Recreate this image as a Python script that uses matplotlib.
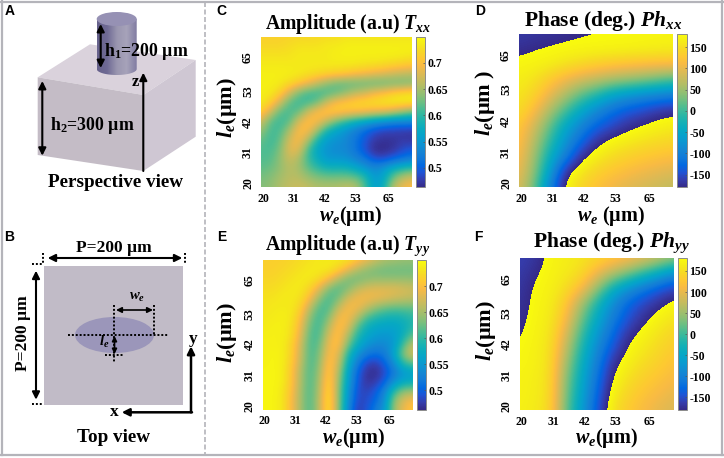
#!/usr/bin/env python3
"""Meta-atom schematic with amplitude and phase maps against w_e and l_e."""

import numpy as np

import matplotlib
matplotlib.use("Agg")
import matplotlib.pyplot as plt
from matplotlib import colors as mcolors
from matplotlib.patches import Ellipse, Polygon, Rectangle

W, H = 724, 458

plt.rcParams["font.family"] = ["Liberation Serif", "DejaVu Serif"]
plt.rcParams["mathtext.fontset"] = "custom"
plt.rcParams["mathtext.rm"] = "Liberation Serif:bold"
plt.rcParams["mathtext.it"] = "Liberation Serif:italic:bold"
plt.rcParams["mathtext.bf"] = "Liberation Serif:bold"
plt.rcParams["mathtext.bfit"] = "Liberation Serif:italic:bold"

size_ticks = [20, 31, 42, 53, 65]
amp_ticks = [0.5, 0.55, 0.6, 0.65, 0.7]
amp_tick_labels = ["0.5", "0.55", "0.6", "0.65", "0.7"]
phase_ticks = [-150, -100, -50, 0, 50, 100, 150]

# amplitude grids, first row is the largest l_e
t_xx = [
    [.715, .715, .715, .718, .720, .720, .722, .725, .725, .730, .730, .730, .730, .730, .730, .730, .730],
    [.720, .720, .720, .725, .730, .730, .730, .735, .735, .740, .740, .740, .740, .740, .740, .740, .740],
    [.730, .730, .730, .730, .735, .735, .735, .735, .740, .740, .740, .740, .740, .740, .740, .738, .735],
    [.735, .735, .735, .735, .735, .735, .735, .735, .735, .735, .735, .730, .730, .725, .720, .715, .710],
    [.740, .740, .740, .738, .735, .730, .725, .720, .715, .710, .700, .695, .685, .680, .670, .665, .660],
    [.740, .740, .735, .725, .710, .690, .665, .640, .625, .620, .620, .620, .620, .620, .625, .625, .630],
    [.740, .735, .720, .675, .630, .610, .605, .610, .620, .640, .660, .670, .690, .700, .715, .725, .730],
    [.735, .720, .675, .620, .605, .605, .625, .670, .700, .710, .720, .725, .730, .735, .740, .740, .740],
    [.720, .675, .620, .610, .620, .670, .700, .715, .715, .710, .705, .700, .690, .685, .670, .650, .630],
    [.675, .620, .605, .615, .675, .705, .700, .665, .630, .605, .585, .570, .555, .545, .535, .535, .535],
    [.645, .610, .610, .650, .700, .700, .645, .590, .565, .545, .525, .505, .490, .480, .480, .475, .475],
    [.625, .605, .620, .675, .700, .655, .590, .555, .545, .535, .515, .495, .475, .470, .470, .475, .470],
    [.615, .610, .630, .685, .685, .610, .565, .545, .535, .535, .515, .490, .465, .463, .470, .485, .495],
    [.615, .615, .640, .670, .655, .605, .575, .550, .550, .545, .530, .515, .490, .485, .500, .510, .520],
    [.620, .625, .640, .660, .650, .620, .600, .585, .585, .585, .570, .550, .535, .550, .575, .590, .600],
    [.630, .635, .650, .660, .660, .645, .635, .630, .630, .630, .625, .600, .550, .565, .625, .660, .675],
    [.635, .640, .655, .665, .670, .665, .655, .655, .655, .665, .660, .615, .555, .580, .660, .690, .700],
]
t_yy = [
    [.715, .715, .715, .720, .725, .730, .735, .735, .735, .730, .710, .690, .670, .655, .650, .645, .645],
    [.715, .715, .720, .725, .730, .735, .735, .735, .720, .690, .660, .640, .630, .625, .625, .625, .625],
    [.720, .720, .725, .730, .735, .735, .725, .700, .660, .630, .625, .635, .640, .640, .640, .640, .640],
    [.725, .725, .730, .735, .735, .720, .685, .635, .615, .630, .660, .675, .680, .680, .680, .675, .670],
    [.730, .730, .735, .735, .730, .700, .645, .610, .625, .670, .690, .695, .690, .685, .675, .670, .665],
    [.730, .735, .735, .735, .720, .665, .615, .610, .660, .695, .695, .670, .645, .630, .625, .625, .625],
    [.735, .735, .740, .735, .705, .640, .605, .630, .690, .700, .665, .620, .600, .590, .585, .590, .600],
    [.735, .740, .740, .730, .695, .625, .605, .655, .705, .690, .625, .585, .570, .565, .565, .575, .595],
    [.740, .740, .740, .730, .685, .615, .610, .675, .710, .660, .600, .570, .555, .550, .555, .580, .620],
    [.740, .740, .740, .720, .675, .610, .620, .690, .710, .635, .580, .550, .535, .535, .550, .610, .665],
    [.740, .745, .740, .720, .670, .610, .630, .700, .690, .600, .550, .520, .510, .520, .565, .640, .680],
    [.740, .745, .740, .715, .665, .610, .635, .715, .675, .585, .525, .485, .475, .500, .540, .600, .620],
    [.745, .745, .740, .710, .655, .610, .645, .720, .660, .570, .505, .470, .465, .485, .520, .550, .560],
    [.745, .745, .740, .710, .655, .610, .650, .730, .650, .565, .500, .470, .475, .500, .545, .570, .575],
    [.745, .745, .735, .705, .650, .610, .655, .735, .645, .555, .490, .480, .495, .530, .600, .640, .645],
    [.745, .745, .735, .700, .650, .610, .660, .740, .645, .550, .485, .485, .505, .540, .640, .680, .700],
    [.745, .745, .735, .700, .650, .610, .660, .740, .645, .540, .475, .490, .520, .550, .645, .690, .710],
]

# unwrapped phase in degrees, colours fold back into -180..180
ph_xx = [
    [195, 192, 189, 186, 183, 181, 180, 178, 176, 174, 172],
    [186, 181, 178, 175, 173, 172, 171, 170, 168, 166, 165],
    [174, 170, 165, 155, 145, 135, 128, 122, 118, 115, 113],
    [165, 155, 130, 105, 85, 70, 55, 45, 35, 20, 5],
    [158, 140, 100, 60, 15, -15, -55, -75, -90, -100, -108],
    [150, 115, 60, 5, -45, -90, -120, -140, -150, -165, -172],
    [130, 85, 20, -45, -95, -130, -150, -170, -181, -190, -197],
    [125, 65, -5, -75, -125, -170, -188, -197, -205, -212, -217],
    [115, 50, -35, -100, -172, -195, -210, -222, -230, -237, -242],
    [105, 40, -60, -175, -200, -220, -235, -245, -255, -262, -270],
    [90, 25, -100, -190, -218, -240, -255, -268, -275, -283, -290],
]
ph_yy = [
    [200, 192, 172, 165, 158, 145, 132, 118, 100, 75, 50],
    [196, 183, 170, 162, 148, 105, 65, 30, -10, -45, -85],
    [193, 176, 168, 150, 115, 45, -35, -80, -112, -140, -158],
    [190, 174, 165, 130, 55, -20, -85, -130, -155, -172, -190],
    [187, 172, 162, 115, 25, -45, -105, -145, -172, -192, -205],
    [183, 170, 158, 90, 0, -70, -125, -170, -190, -205, -220],
    [178, 168, 155, 70, -20, -90, -145, -185, -200, -215, -230],
    [175, 168, 152, 50, -35, -105, -172, -195, -212, -225, -240],
    [170, 165, 150, 35, -45, -120, -183, -208, -225, -238, -250],
    [170, 165, 148, 28, -55, -130, -195, -220, -238, -250, -262],
    [168, 162, 145, 20, -65, -140, -205, -230, -248, -262, -272],
]

parula = mcolors.LinearSegmentedColormap.from_list("parula", [
    (0.2081, 0.1663, 0.5292), (0.2081, 0.2386, 0.6771), (0.1253, 0.3242, 0.8303),
    (0.0060, 0.4086, 0.8828), (0.0629, 0.4737, 0.8554), (0.0793, 0.5200, 0.8312),
    (0.0488, 0.5772, 0.8228), (0.0239, 0.6287, 0.8038), (0.0267, 0.6642, 0.7607),
    (0.0843, 0.6928, 0.7062), (0.1801, 0.7177, 0.6424), (0.3022, 0.7376, 0.5712),
    (0.4420, 0.7481, 0.5033), (0.5709, 0.7485, 0.4494), (0.6834, 0.7435, 0.4044),
    (0.7858, 0.7356, 0.3633), (0.8824, 0.7274, 0.3217), (0.9739, 0.7314, 0.2666),
    (0.9955, 0.7861, 0.1967), (0.9697, 0.8481, 0.1475), (0.9598, 0.9218, 0.0948),
    (0.9763, 0.9831, 0.0538),
])

FRAME = "#b4b4ba"
CUBE_TOP = "#dad2dc"
CUBE_FRONT = "#c4bcc6"
CUBE_SIDE = "#cfc7d3"
SQUARE = "#c1bbc7"
ELLIPSE = "#9b96ba"

X_RANGE = (19.3, 73.2)
Y_RANGE = (18.6, 72.3)


def fold_phase(x):
    return (np.asarray(x) + 180.0) % 360.0 - 180.0


def px_axes(fig, left, top, right, bottom):
    return fig.add_axes([left / W, 1 - bottom / H, (right - left) / W, (bottom - top) / H])


def heat_panel(fig, box, cbar_box, data, wrapped, ticks, labels):
    ax = px_axes(fig, *box)
    if wrapped:
        img_norm = mcolors.FuncNorm((fold_phase, lambda x: x), vmin=-180, vmax=179.99)
        bar_norm = mcolors.Normalize(-180, 180)
    else:
        img_norm = mcolors.Normalize(0.463, 0.75)
        bar_norm = img_norm

    # samples sit on the panel edges, so pad the image by half a cell and crop
    n = len(data)
    dx = (X_RANGE[1] - X_RANGE[0]) / (n - 1)
    dy = (Y_RANGE[1] - Y_RANGE[0]) / (n - 1)
    extent = (X_RANGE[0] - dx / 2, X_RANGE[1] + dx / 2, Y_RANGE[0] - dy / 2, Y_RANGE[1] + dy / 2)
    ax.imshow(data, cmap=parula, norm=img_norm, aspect="auto", extent=extent,
              interpolation="bicubic", interpolation_stage="data")
    ax.set_xlim(*X_RANGE)
    ax.set_ylim(*Y_RANGE)

    for s in ax.spines.values():
        s.set_visible(False)
    ax.set_xticks(size_ticks)
    ax.set_yticks(size_ticks)
    ax.tick_params(axis="x", length=0, pad=4)
    ax.tick_params(axis="y", length=0, pad=5)
    ax.set_xticklabels(size_ticks, fontsize=8.5, fontweight="bold")
    ax.set_yticklabels(size_ticks, fontsize=8.5, fontweight="bold", rotation=90, va="center")

    cax = px_axes(fig, *cbar_box)
    cb = fig.colorbar(plt.cm.ScalarMappable(norm=bar_norm, cmap=parula), cax=cax)
    cb.set_ticks(ticks)
    cb.set_ticklabels(labels, fontsize=8.5, fontweight="bold")
    cb.ax.tick_params(direction="in", length=1.5, width=0.5, pad=2, color="#555555")
    cb.outline.set_edgecolor("#8a8a8a")
    cb.outline.set_linewidth(0.7)


def double_arrow(ax, p0, p1, style="<|-|>", lw=1.5, scale=11):
    ax.annotate("", xy=p1, xytext=p0,
                arrowprops=dict(arrowstyle=style, color="black", lw=lw, mutation_scale=scale,
                                shrinkA=0, shrinkB=0))


def dots(ax, xs, ys, lw=1.4):
    ax.plot(xs, ys, color="black", lw=lw, ls=(0, (1, 1)))


def draw_cube(ax):
    ax.add_patch(Polygon([(37.7, 77.3), (90, 44.3), (195.7, 60), (143.3, 95)], fc=CUBE_TOP, ec="none"))
    ax.add_patch(Polygon([(37.7, 77.3), (143.3, 95), (143.3, 171), (37.7, 155)], fc=CUBE_FRONT, ec="none"))
    ax.add_patch(Polygon([(143.3, 95), (195.7, 60), (195.7, 136.7), (143.3, 171)], fc=CUBE_SIDE, ec="none"))

    # cylinder body is a horizontal gradient clipped to its outline
    t = np.linspace(0, np.pi, 40)
    outline = [(136.7, 19)] + list(zip(116.7 + 20 * np.cos(t), 69 + 6 * np.sin(t))) + [(96.7, 19)]
    clip = Polygon(outline, closed=True, transform=ax.transData, fc="none", ec="none")
    ax.add_patch(clip)
    shade = mcolors.LinearSegmentedColormap.from_list(
        "cyl", ["#67628c", "#6f6a94", "#9a96b0", "#a7a3ba", "#817ca2"])
    grad = ax.imshow(np.linspace(0, 1, 64)[None, :], cmap=shade, aspect="auto", zorder=2,
                     extent=(96.7, 136.7, 76, 12))
    grad.set_clip_path(clip)
    ax.add_patch(Ellipse((116.7, 19), 40, 14, fc="#9691b4", ec="none", zorder=3))


def draw_top_view(ax):
    ax.add_patch(Rectangle((44.3, 265.7), 139, 139, fc=SQUARE, ec="none"))
    ax.add_patch(Ellipse((114.5, 335), 79, 36, fc=ELLIPSE, ec="none"))
    dots(ax, [68.3, 168.3], [335, 335])
    dots(ax, [114.3, 114.3], [304.7, 363])
    dots(ax, [153.7, 153.7], [304.7, 335])
    dots(ax, [105, 124], [355.3, 355.3])
    dots(ax, [42.7, 42.7], [253, 263])
    dots(ax, [31.7, 42.7], [264, 264])
    dots(ax, [185, 185], [253, 263])
    dots(ax, [31.7, 42.7], [404, 404])
    double_arrow(ax, (116, 310), (153, 310), lw=1.2, scale=8)
    double_arrow(ax, (114.5, 336), (114.5, 354), lw=1.2, scale=7)
    double_arrow(ax, (47.7, 258), (182.3, 258))
    double_arrow(ax, (36, 270.7), (36, 399.7))
    double_arrow(ax, (191, 412.3), (191, 346.3), style="-|>", lw=1.8)
    double_arrow(ax, (192, 412.3), (121.7, 412.3), style="-|>", lw=1.8)


def main():
    fig = plt.figure(figsize=(W / 100, H / 100), dpi=100, facecolor="white")

    bg = fig.add_axes([0, 0, 1, 1])
    bg.set_axis_off()

    draw_cube(bg)
    double_arrow(bg, (100.7, 24), (100.7, 68))
    double_arrow(bg, (42.3, 81), (42.3, 155.7))
    double_arrow(bg, (143.3, 171), (143.3, 72.7), style="-|>")
    draw_top_view(bg)

    # outer frame and the dashed divider
    bg.plot([0, W], [1.5, 1.5], color=FRAME, lw=1.6)
    bg.plot([0, W], [455, 455], color=FRAME, lw=1.6)
    bg.plot([1.5, 1.5], [0, 455], color=FRAME, lw=1.6)
    bg.plot([721.7, 721.7], [0, 455], color=FRAME, lw=1.6)
    bg.plot([205, 205], [2, 454], color=FRAME, lw=1.2, ls=(0, (3, 1.5)))
    bg.set_xlim(0, W)
    bg.set_ylim(H, 0)

    def label(x, y, s, size=9, **kw):
        bg.text(x, y, s, fontsize=size, fontweight="bold", ha="center", va="center", **kw)

    for x, y, s in [(10, 11, "A"), (9, 237, "B"), (221.7, 11, "C"), (480, 11, "D"),
                    (221.7, 237, "E"), (478.7, 237, "F")]:
        bg.text(x, y, s, fontsize=10, fontweight="bold", family="Liberation Sans",
                ha="center", va="center")

    label(146.5, 52, "h$_{1}$=200 µm", 12.8)
    label(92.5, 125, "h$_{2}$=300 µm", 12.8)
    label(135, 82, "z", 12)
    label(116, 182.7, "Perspective view", 13.8)
    label(114.2, 248, "P=200 µm", 12.5)
    label(23.3, 333, "P=200 µm", 12.5, rotation=90)
    label(136.7, 297, "$w_e$", 10.5)
    label(104, 342, "$l_e$", 10.5)
    label(193, 339, "y", 12.5)
    label(114, 412, "x", 12.5)
    label(113.5, 437, "Top view", 13.8)

    label(348, 24, "Amplitude (a.u) $T_{xx}$", 14.2)
    label(603, 21, "Phase (deg.) $Ph_{xx}$", 15.5)
    label(348, 246, "Amplitude (a.u) $T_{yy}$", 14.2)
    label(611.7, 243, "Phase (deg.) $Ph_{yy}$", 15.5)

    label(350, 216, "$w_e$(µm)", 14.5)
    label(610.7, 216, "$w_e$ (µm)", 14.5)
    label(353, 438.5, "$w_e$(µm)", 14.5)
    label(606.7, 438.5, "$w_e$(µm)", 14.5)
    label(226.7, 108, "$l_e$(µm)", 16, rotation=90)
    label(484.7, 103, "$l_e$(µm )", 16, rotation=90)
    label(226.7, 333, "$l_e$(µm)", 16, rotation=90)
    label(485.7, 331, "$l_e$(µm)", 16, rotation=90)

    heat_panel(fig, (261, 36.7, 411.7, 187.3), (416.3, 36.7, 425, 187.3), t_xx, False, amp_ticks, amp_tick_labels)
    heat_panel(fig, (519, 34.3, 673, 187.3), (677.3, 34.3, 686.7, 187.3), ph_xx, True, phase_ticks, phase_ticks)
    heat_panel(fig, (262.7, 260.3, 412.7, 409.7), (417, 260.3, 425.7, 409.7), t_yy, False, amp_ticks, amp_tick_labels)
    heat_panel(fig, (519.7, 258.3, 673, 410), (678, 258.3, 686.7, 410), ph_yy, True, phase_ticks, phase_ticks)

    fig.savefig("out.png", dpi=100)
    plt.close(fig)


if __name__ == "__main__":
    main()
